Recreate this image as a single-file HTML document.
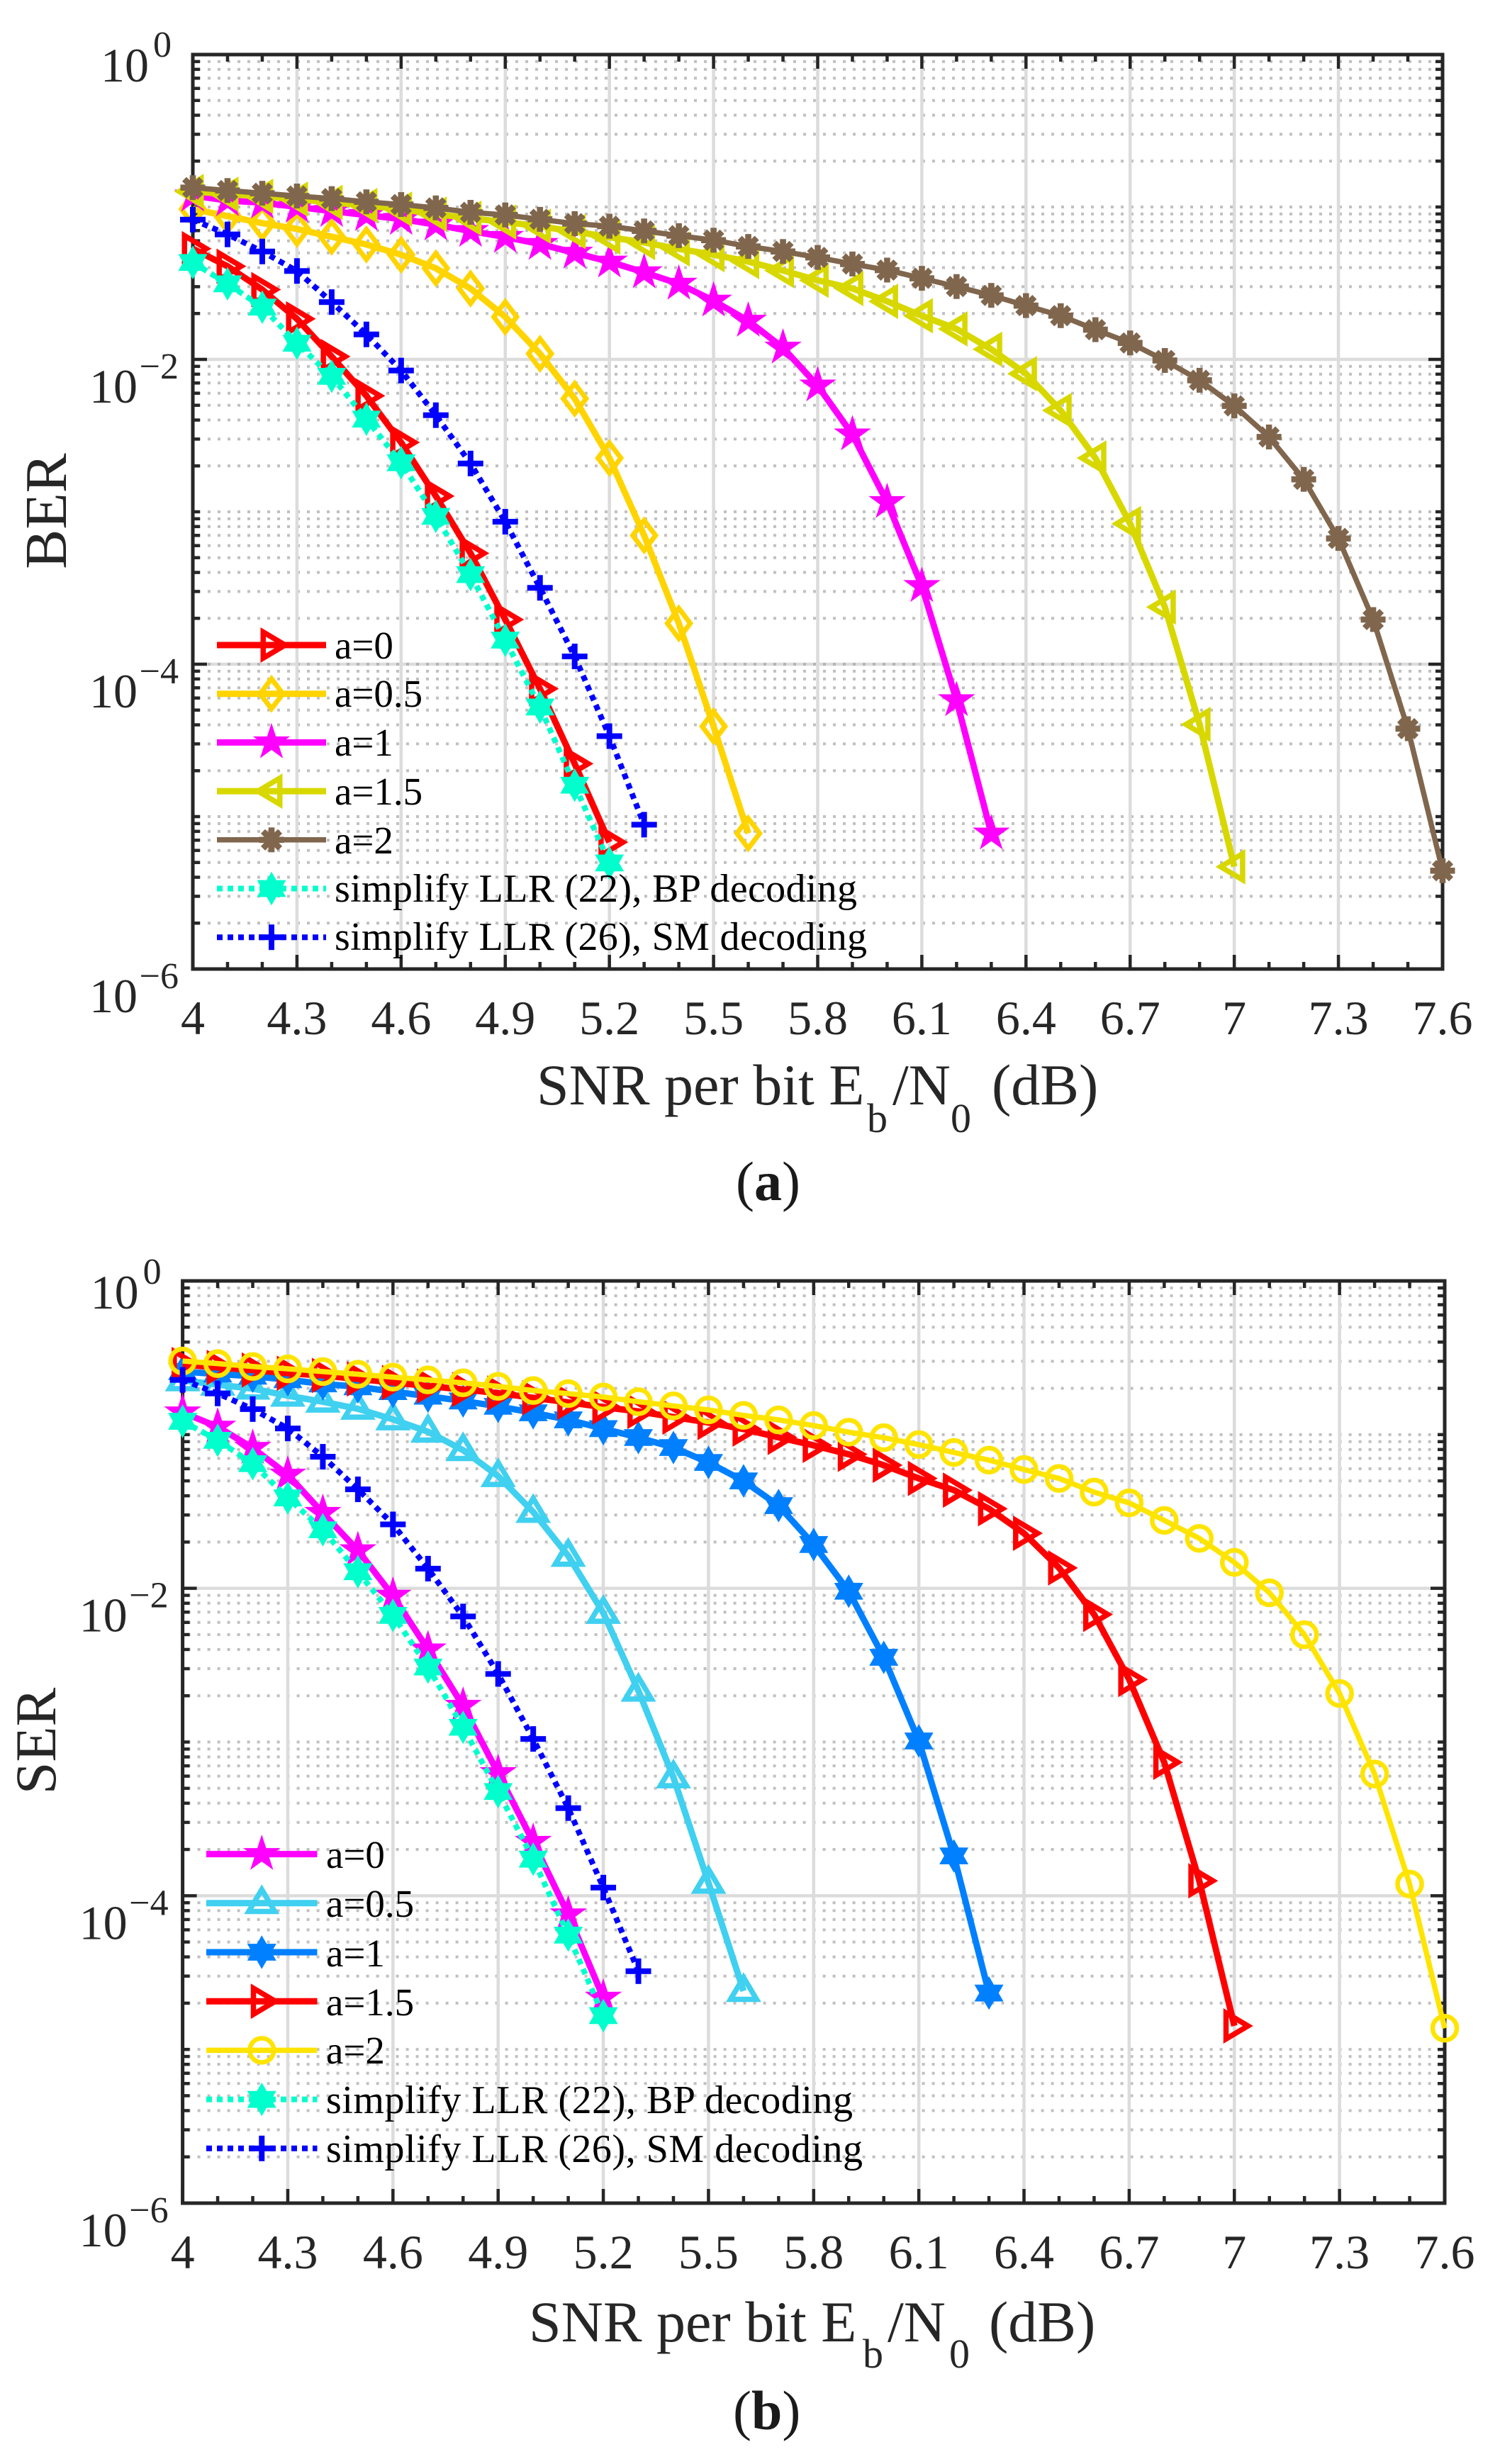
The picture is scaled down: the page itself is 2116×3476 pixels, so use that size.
<!DOCTYPE html>
<html lang="en">
<head>
<meta charset="utf-8">
<title>BER and SER versus SNR per bit</title>
<style>
html,body{margin:0;padding:0;background:#fff;}
svg{display:block;}
text{font-family:"Liberation Serif",serif;fill:#262626;}
.legend-label{font-size:55px;fill:#000;}
.legend-long{font-size:56px;fill:#000;}
.axis-title{font-size:82px;}
.axis-sub{font-size:58px;}
.caption{font-size:78px;fill:#1a1a1a;}
</style>
</head>
<body>
<svg id="figure" xmlns="http://www.w3.org/2000/svg" width="2116" height="3476" viewBox="0 0 2116 3476">
  <rect x="0" y="0" width="2116" height="3476" fill="#fff"/>
  <g id="chartA"></g>
  <g id="chartB"></g>

  <g>
    <text transform="translate(93,721) rotate(-90)" text-anchor="middle" style="font-size:84px">BER</text>
    <text class="axis-title" x="757" y="1558">SNR per bit E</text>
    <text class="axis-sub" x="1223" y="1597">b</text>
    <text class="axis-title" x="1259" y="1558">/N</text>
    <text class="axis-sub" x="1341" y="1597">0</text>
    <text class="axis-title" x="1399" y="1558">(dB)</text>
    <text class="caption" x="1038" y="1693">(<tspan font-weight="bold">a</tspan>)</text>
    <text class="legend-label" x="472" y="929">a=0</text>
    <text class="legend-label" x="472" y="997">a=0.5</text>
    <text class="legend-label" x="472" y="1066">a=1</text>
    <text class="legend-label" x="472" y="1135">a=1.5</text>
    <text class="legend-label" x="472" y="1204">a=2</text>
    <text class="legend-long" x="472" y="1272" textLength="737" lengthAdjust="spacing">simplify LLR (22), BP decoding</text>
    <text class="legend-long" x="472" y="1340" textLength="751" lengthAdjust="spacing">simplify LLR (26), SM decoding</text>
  </g>

  <g>
    <text transform="translate(78,2456) rotate(-90)" text-anchor="middle" style="font-size:82px">SER</text>
    <text class="axis-title" x="746" y="3303">SNR per bit E</text>
    <text class="axis-sub" x="1217" y="3340">b</text>
    <text class="axis-title" x="1252" y="3303">/N</text>
    <text class="axis-sub" x="1339" y="3340">0</text>
    <text class="axis-title" x="1395" y="3303">(dB)</text>
    <text class="caption" x="1034" y="3427">(<tspan font-weight="bold">b</tspan>)</text>
    <text class="legend-label" x="460" y="2635">a=0</text>
    <text class="legend-label" x="460" y="2704">a=0.5</text>
    <text class="legend-label" x="460" y="2774">a=1</text>
    <text class="legend-label" x="460" y="2843">a=1.5</text>
    <text class="legend-label" x="460" y="2911">a=2</text>
    <text class="legend-long" x="460" y="2981" textLength="743" lengthAdjust="spacing">simplify LLR (22), BP decoding</text>
    <text class="legend-long" x="460" y="3050" textLength="757" lengthAdjust="spacing">simplify LLR (26), SM decoding</text>
  </g>
</svg>

<script>
// Shared axis data
const snrValues = [4,4.1,4.2,4.3,4.4,4.5,4.6,4.7,4.8,4.9,5,5.1,5.2,5.3,5.4,5.5,5.6,5.7,5.8,5.9,6,6.1,6.2,6.3,6.4,6.5,6.6,6.7,6.8,6.9,7,7.1,7.2,7.3,7.4,7.5,7.6];
const xTickValues = [4,4.3,4.6,4.9,5.2,5.5,5.8,6.1,6.4,6.7,7,7.3,7.6];
const xTickLabels = ['4','4.3','4.6','4.9','5.2','5.5','5.8','6.1','6.4','6.7','7','7.3','7.6'];
const yTickExponents = [0,-2,-4,-6];
const yTickLabels = ['0','\u22122','\u22124','\u22126'];

// Chart (a): log10(BER), one value per SNR step from 4 dB
const berA0 = [-1.274,-1.389,-1.542,-1.734,-1.981,-2.239,-2.545,-2.897,-3.272,-3.707,-4.161,-4.653,-5.168];
const berA05 = [-1.014,-1.06,-1.106,-1.144,-1.195,-1.246,-1.313,-1.402,-1.535,-1.721,-1.963,-2.257,-2.647,-3.155,-3.732,-4.408,-5.11];
const berA1 = [-0.926,-0.957,-0.972,-0.999,-1.027,-1.053,-1.079,-1.116,-1.158,-1.197,-1.243,-1.301,-1.359,-1.429,-1.504,-1.615,-1.747,-1.924,-2.172,-2.493,-2.937,-3.488,-4.237,-5.112];
const berA15 = [-0.898,-0.916,-0.93,-0.949,-0.97,-0.99,-1.014,-1.047,-1.074,-1.099,-1.127,-1.161,-1.198,-1.233,-1.275,-1.313,-1.358,-1.417,-1.481,-1.535,-1.619,-1.714,-1.8,-1.934,-2.094,-2.335,-2.647,-3.078,-3.625,-4.395,-5.329];
const berA2 = [-0.873,-0.892,-0.91,-0.928,-0.945,-0.966,-0.984,-1.006,-1.035,-1.052,-1.081,-1.109,-1.126,-1.157,-1.188,-1.218,-1.259,-1.292,-1.331,-1.374,-1.414,-1.468,-1.522,-1.58,-1.647,-1.713,-1.805,-1.892,-2.007,-2.137,-2.305,-2.509,-2.787,-3.175,-3.707,-4.423,-5.355];
const berLlr22 = [-1.364,-1.504,-1.657,-1.894,-2.111,-2.392,-2.678,-3.03,-3.412,-3.842,-4.281,-4.794,-5.304];
const berLlr26 = [-1.083,-1.18,-1.292,-1.42,-1.624,-1.836,-2.073,-2.366,-2.683,-3.065,-3.499,-3.949,-4.472,-5.053];

// Chart (b): log10(SER), one value per SNR step from 4 dB
const serA0 = [-0.856,-0.949,-1.087,-1.261,-1.51,-1.753,-2.049,-2.398,-2.765,-3.203,-3.65,-4.122,-4.664];
const serA05 = [-0.647,-0.675,-0.701,-0.747,-0.786,-0.832,-0.901,-0.981,-1.101,-1.27,-1.503,-1.789,-2.16,-2.666,-3.23,-3.916,-4.62];
const serA1 = [-0.59,-0.606,-0.62,-0.643,-0.67,-0.689,-0.72,-0.75,-0.781,-0.816,-0.858,-0.904,-0.961,-1.019,-1.084,-1.181,-1.301,-1.462,-1.715,-2.019,-2.449,-2.993,-3.741,-4.633];
const serA15 = [-0.544,-0.563,-0.58,-0.601,-0.615,-0.638,-0.661,-0.684,-0.706,-0.73,-0.76,-0.79,-0.821,-0.849,-0.886,-0.921,-0.964,-1.018,-1.07,-1.128,-1.199,-1.285,-1.361,-1.482,-1.642,-1.867,-2.17,-2.593,-3.132,-3.903,-4.847];
const serA2 = [-0.521,-0.538,-0.557,-0.572,-0.59,-0.607,-0.626,-0.644,-0.663,-0.686,-0.713,-0.733,-0.755,-0.786,-0.813,-0.839,-0.875,-0.904,-0.941,-0.984,-1.02,-1.065,-1.116,-1.166,-1.227,-1.285,-1.374,-1.444,-1.558,-1.675,-1.831,-2.029,-2.302,-2.684,-3.208,-3.924,-4.862];
const serLlr22 = [-0.913,-1.037,-1.189,-1.412,-1.619,-1.892,-2.176,-2.512,-2.904,-3.322,-3.762,-4.256,-4.78];
const serLlr26 = [-0.644,-0.732,-0.834,-0.96,-1.144,-1.356,-1.584,-1.872,-2.183,-2.557,-2.98,-3.43,-3.947,-4.491];

const NS = 'http://www.w3.org/2000/svg';
const INK = '#262626';

function make(tag, parent, attrs) {
  const node = document.createElementNS(NS, tag);
  for (const key in attrs) node.setAttribute(key, attrs[key]);
  parent.appendChild(node);
  return node;
}

function polyPoints(list) {
  return list.map(function (p) { return p[0].toFixed(2) + ',' + p[1].toFixed(2); }).join(' ');
}

function ringPoints(count, outer, inner) {
  const pts = [];
  for (let i = 0; i < count * 2; i++) {
    const r = i % 2 === 0 ? outer : inner;
    const ang = -Math.PI / 2 + i * Math.PI / count;
    pts.push([r * Math.cos(ang), r * Math.sin(ang)]);
  }
  return pts;
}

function drawMarker(parent, type, cx, cy, color, name) {
  const g = make('g', parent, { transform: 'translate(' + cx.toFixed(2) + ',' + cy.toFixed(2) + ')' });
  
  
  const open = { fill: 'none', stroke: color, 'stroke-width': 7.5, 'stroke-linejoin': 'miter', 'stroke-miterlimit': 12 };
  if (type === 'right') {
    make('polygon', g, Object.assign({ points: polyPoints([[-11.75, -18.4], [19.2, 0], [-11.75, 18.4]]) }, open));
  } else if (type === 'left') {
    make('polygon', g, Object.assign({ points: polyPoints([[11.75, -18.4], [-19.2, 0], [11.75, 18.4]]) }, open));
  } else if (type === 'up') {
    make('polygon', g, Object.assign({ points: polyPoints([[-18.4, 11.75], [0, -19.2], [18.4, 11.75]]) }, open));
  } else if (type === 'diamond') {
    make('polygon', g, { points: polyPoints([[0, -21.2], [16.1, 0], [0, 21.2], [-16.1, 0]]), fill: 'none', stroke: color, 'stroke-width': 7, 'stroke-linejoin': 'miter', 'stroke-miterlimit': 12 });
  } else if (type === 'circle') {
    make('circle', g, { cx: 0, cy: 0, r: 17, fill: 'none', stroke: color, 'stroke-width': 6.5 });
  } else if (type === 'star') {
    make('polygon', g, { points: polyPoints(ringPoints(5, 27.6, 10.5)), fill: color });
  } else if (type === 'hexagram') {
    make('polygon', g, { points: polyPoints(ringPoints(6, 23.7, 13.7)), fill: color });
  } else if (type === 'plus') {
    make('rect', g, { x: -4, y: -18, width: 8, height: 36, fill: color });
    make('rect', g, { x: -18, y: -4, width: 36, height: 8, fill: color });
  } else if (type === 'asterisk') {
    make('rect', g, { x: -4.3, y: -17.5, width: 8.6, height: 35, fill: color });
    make('rect', g, { x: -17.5, y: -4.3, width: 35, height: 8.6, fill: color });
    make('rect', g, { x: -4.3, y: -17, width: 8.6, height: 34, fill: color, transform: 'rotate(45)' });
    make('rect', g, { x: -4.3, y: -17, width: 8.6, height: 34, fill: color, transform: 'rotate(-45)' });
  }
  return g;
}

function drawChart(root, prefix, box, series, legend, labelOffsets) {
  const xScale = function (v) { return box.left + (v - 4) * (box.right - box.left) / 3.6; };
  const yScale = function (e) { return box.top + (-e) * (box.bottom - box.top) / 6; };

  const grid = make('g', root, {});
  
  

  // log grid and ticks on y
  const ticks = make('g', root, { stroke: INK });
  
  

  for (let k = 1; k <= 6; k++) {
    for (let m = 1; m <= 9; m++) {
      const exp = Math.log10(m) - k;
      const y = yScale(exp);
      const isMajor = m === 1 && k % 2 === 0;
      if (k === 6 && m === 1) continue;
      if (!isMajor) {
        make('line', grid, { x1: box.left + 7, x2: box.right - 6, y1: y, y2: y, stroke: '#c0c0c0', 'stroke-width': 4, 'stroke-dasharray': '4 10' });
      } else {
        make('line', grid, { x1: box.left, x2: box.right, y1: y, y2: y, stroke: '#dcdcdc', 'stroke-width': 4.5 });
        if (box.dotMajor === k) {
          make('line', grid, { x1: box.left + 7, x2: box.right - 6, y1: y, y2: y, stroke: '#b4b4b4', 'stroke-width': 4, 'stroke-dasharray': '4 10' });
        }
      }
      const len = isMajor ? 20 : 10;
      make('line', ticks, { x1: box.left, x2: box.left + len, y1: y, y2: y, 'stroke-width': 4.5 });
      make('line', ticks, { x1: box.right, x2: box.right - len, y1: y, y2: y, 'stroke-width': 4.5 });
    }
  }

  // x ticks from the SNR steps, vertical grid from the labelled ticks
  snrValues.forEach(function (v) {
    const x = xScale(v);
    const isMajor = xTickValues.indexOf(v) >= 0;
    const len = isMajor ? 20 : 10;
    if (isMajor && v !== 4 && v !== 7.6) {
      make('line', grid, { x1: x, x2: x, y1: box.top, y2: box.bottom, stroke: '#dcdcdc', 'stroke-width': 4.5 });
    }
    make('line', ticks, { x1: x, x2: x, y1: box.top, y2: box.top + len, 'stroke-width': 4.5 });
    make('line', ticks, { x1: x, x2: x, y1: box.bottom, y2: box.bottom - len, 'stroke-width': 4.5 });
  });

  const frame = make('rect', root, { x: box.left, y: box.top, width: box.right - box.left, height: box.bottom - box.top, fill: 'none', stroke: INK, 'stroke-width': 5 });
  
  

  // tick labels
  xTickValues.forEach(function (v, i) {
    const t = make('text', root, { x: xScale(v), y: box.bottom + 92, 'text-anchor': 'middle', 'font-size': 68 });
    t.textContent = xTickLabels[i];
    
    
  });
  yTickExponents.forEach(function (e, i) {
    const y = yScale(e);
    const isZero = e === 0;
    const base = make('text', root, { x: box.left - (isZero ? 62 : 78), y: y + (isZero ? labelOffsets.zero : 61), 'text-anchor': 'end', 'font-size': 68 });
    base.textContent = '10';
    
    
    const sup = make('text', root, { x: box.left - (isZero ? 30 : 20), y: y + (isZero ? labelOffsets.zero - 35 : 27), 'text-anchor': 'end', 'font-size': 52 });
    sup.textContent = yTickLabels[i];
    
    
  });

  // series
  series.forEach(function (s) {
    const g = make('g', root, {});
    
    
    const pts = s.values.map(function (e, i) { return [xScale(snrValues[i]), yScale(e)]; });
    const attrs = { points: polyPoints(pts), fill: 'none', stroke: s.color, 'stroke-width': s.width, 'stroke-linejoin': 'round' };
    if (s.dotted) attrs['stroke-dasharray'] = '8 7';
    const line = make('polyline', g, attrs);
    
    
    pts.forEach(function (p) {
      drawMarker(g, s.marker, p[0], p[1], s.color, prefix + '-point-' + s.key);
    });
  });

  // legend samples
  series.forEach(function (s, i) {
    const g = make('g', root, {});
    
    
    const y = legend.top + i * legend.step;
    const attrs = { x1: legend.x1, x2: legend.x2, y1: y, y2: y, stroke: s.color, 'stroke-width': s.dotted ? 8 : s.width };
    if (s.dotted) attrs['stroke-dasharray'] = '8 7';
    make('line', g, attrs);
    drawMarker(g, s.marker, (legend.x1 + legend.x2) / 2, y, s.color, prefix + '-legend-marker-' + s.key);
  });
}

drawChart(
  document.getElementById('chartA'), 'ber',
  { left: 272, right: 2035, top: 77, bottom: 1367, dotMajor: 4 },
  [
    { key: 'a0', values: berA0, color: '#ff0000', marker: 'right', width: 9 },
    { key: 'a05', values: berA05, color: '#ffd400', marker: 'diamond', width: 9 },
    { key: 'a1', values: berA1, color: '#ff00ff', marker: 'star', width: 9 },
    { key: 'a15', values: berA15, color: '#d8d800', marker: 'left', width: 9 },
    { key: 'a2', values: berA2, color: '#80664d', marker: 'asterisk', width: 7.5 },
    { key: 'llr22', values: berLlr22, color: '#00ffcc', marker: 'hexagram', width: 8, dotted: true },
    { key: 'llr26', values: berLlr26, color: '#0000ff', marker: 'plus', width: 8, dotted: true }
  ],
  { x1: 306, x2: 460, top: 910, step: 68.7 },
  { zero: 38 }
);

drawChart(
  document.getElementById('chartB'), 'ser',
  { left: 257.6, right: 2038, top: 1807, bottom: 3108, dotMajor: 0 },
  [
    { key: 'a0', values: serA0, color: '#ff00ff', marker: 'star', width: 9 },
    { key: 'a05', values: serA05, color: '#40d0f0', marker: 'up', width: 9 },
    { key: 'a1', values: serA1, color: '#0080ff', marker: 'hexagram', width: 9 },
    { key: 'a15', values: serA15, color: '#ff0000', marker: 'right', width: 9 },
    { key: 'a2', values: serA2, color: '#ffe400', marker: 'circle', width: 7.5 },
    { key: 'llr22', values: serLlr22, color: '#00ffcc', marker: 'hexagram', width: 8, dotted: true },
    { key: 'llr26', values: serLlr26, color: '#0000ff', marker: 'plus', width: 8, dotted: true }
  ],
  { x1: 291, x2: 447.5, top: 2615.6, step: 69.2 },
  { zero: 39 }
);
</script>
</body>
</html>
